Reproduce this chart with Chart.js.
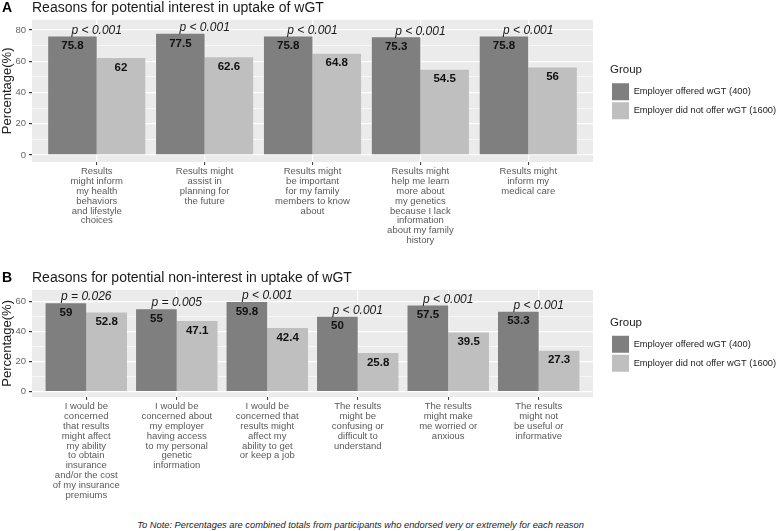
<!DOCTYPE html>
<html>
<head>
<meta charset="utf-8">
<script src="https://cdn.jsdelivr.net/npm/chart.js@4.4.1/dist/chart.umd.min.js"></script>
<style>
  body { margin: 0; background: #fff; font-family: "Liberation Sans", Arial, sans-serif; }
  #page { position: relative; width: 779px; height: 531px; }
  .panel { position: absolute; left: 0; width: 779px; }
  #panelA { top: 0; height: 255px; }
  #panelB { top: 262px; height: 245px; }
  #note { position: absolute; top: 519px; left: 0; width: 721px; text-align: center; line-height: 12px;
          font-style: italic; font-size: 9.3px; color: #222; }
</style>
</head>
<body>
<div id="page">
  <div class="panel" id="panelA"><canvas id="chartA"></canvas></div>
  <div class="panel" id="panelB"><canvas id="chartB"></canvas></div>
  <div id="note">To Note: Percentages are combined totals from participants who endorsed very or extremely for each reason</div>
</div>
<script>
"use strict";

const groupLabels = ["Employer offered wGT (400)", "Employer did not offer wGT (1600)"];
const groupColors = ["#7f7f7f", "#bfbfbf"];

// panel A - reasons for interest
const reasonsA = [
  ["Results", "might inform", "my health", "behaviors", "and lifestyle", "choices"],
  ["Results might", "assist in", "planning for", "the future"],
  ["Results might", "be important", "for my family", "members to know", "about"],
  ["Results might", "help me learn", "more about", "my genetics", "because I lack", "information", "about my family", "history"],
  ["Results might", "inform my", "medical care"]
];
const offeredA = [75.8, 77.5, 75.8, 75.3, 75.8];
const notOfferedA = [62, 62.6, 64.8, 54.5, 56];
const pValuesA = ["p < 0.001", "p < 0.001", "p < 0.001", "p < 0.001", "p < 0.001"];
const yTicksA = [0, 20, 40, 60, 80];

// panel B - reasons for non-interest
const reasonsB = [
  ["I would be", "concerned", "that results", "might affect", "my ability", "to obtain", "insurance", "and/or the cost", "of my insurance", "premiums"],
  ["I would be", "concerned about", "my employer", "having access", "to my personal", "genetic", "information"],
  ["I would be", "concerned that", "results might", "affect my", "ability to get", "or keep a job"],
  ["The results", "might be", "confusing or", "difficult to", "understand"],
  ["The results", "might make", "me worried or", "anxious"],
  ["The results", "might not", "be useful or", "informative"]
];
const offeredB = [59, 55, 59.8, 50, 57.5, 53.3];
const notOfferedB = [52.8, 47.1, 42.4, 25.8, 39.5, 27.3];
const pValuesB = ["p = 0.026", "p = 0.005", "p < 0.001", "p < 0.001", "p < 0.001", "p < 0.001"];
const yTicksB = [0, 20, 40, 60];

const FONT = "'Liberation Sans', Arial, sans-serif";
Chart.defaults.font.family = FONT;

// grey ggplot panel behind everything
const panelBackground = {
  id: "panelBackground",
  beforeDraw(chart) {
    const a = chart.chartArea;
    const ctx = chart.ctx;
    ctx.save();
    ctx.fillStyle = "#ebebeb";
    ctx.fillRect(a.left, a.top, a.right - a.left, a.bottom - a.top);
    ctx.restore();
  }
};

// legend gets a fixed width and sits a bit right of the panel
const legendPlacement = {
  id: "legendPlacement",
  beforeLayout(chart) {
    const lg = chart.legend;
    if (lg && !lg.fixedFit) {
      const fit = lg.fit;
      lg.fit = function () { fit.call(this); this.width = 186; };
      lg.fixedFit = true;
    }
  },
  afterLayout(chart) {
    const lg = chart.legend;
    const w = lg.width;
    lg.left = chart.chartArea.right + 17;
    lg.right = lg.left + w;
    lg.top += 2;
    lg.bottom += 2;
  }
};

function makePanel(canvasId, letter, title, reasons, offered, notOffered, pValues, yTicks, yRange, xAxisHeight, titlePad) {
  // value labels, p values and the panel letter
  const barText = {
    id: "barText",
    afterDatasetsDraw(chart) {
      const ctx = chart.ctx;
      ctx.save();
      ctx.textAlign = "center";
      ctx.textBaseline = "middle";
      ctx.fillStyle = "#111";
      ctx.font = "bold 11.5px " + FONT;
      chart.data.datasets.forEach((ds, d) => {
        chart.getDatasetMeta(d).data.forEach((bar, i) => {
          ctx.fillText(String(ds.data[i].y), bar.x, bar.y + 9.5);
        });
      });
      const bars0 = chart.getDatasetMeta(0).data;
      const bars1 = chart.getDatasetMeta(1).data;
      ctx.font = "italic 12px " + FONT;
      ctx.fillStyle = "#1a1a1a";
      for (let i = 0; i < pValues.length; i++) {
        const top = Math.min(bars0[i].y, bars1[i].y);
        ctx.fillText(pValues[i], chart.scales.x.getPixelForValue(i), top - 6);
      }
      ctx.font = "bold 14px " + FONT;
      ctx.textAlign = "left";
      ctx.fillStyle = "#000";
      ctx.fillText(letter, 2, chart.chartArea.top - 12);
      ctx.restore();
    }
  };

  return new Chart(document.getElementById(canvasId), {
    type: "bar",
    data: {
      datasets: [
        {
          label: groupLabels[0],
          data: offered.map((v, i) => ({ x: i, y: v })),
          backgroundColor: groupColors[0]
        },
        {
          label: groupLabels[1],
          data: notOffered.map((v, i) => ({ x: i, y: v })),
          backgroundColor: groupColors[1]
        }
      ]
    },
    options: {
      responsive: true,
      maintainAspectRatio: false,
      animation: false,
      layout: { padding: 0 },
      datasets: {
        bar: { categoryPercentage: 0.9, barPercentage: 1, borderWidth: 0 }
      },
      scales: {
        x: {
          type: "linear",
          min: -0.6,
          max: reasons.length - 0.4,
          offset: false,
          afterFit: (s) => { s.height = xAxisHeight; },
          afterBuildTicks: (s) => { s.ticks = reasons.map((r, i) => ({ value: i })); },
          ticks: {
            autoSkip: false,
            maxRotation: 0,
            minRotation: 0,
            padding: 1,
            color: "#5a5a5a",
            font: { size: 9.5, lineHeight: 1.05 },
            callback: (v) => reasons[v]
          },
          grid: { offset: false, color: "#fff", lineWidth: 1.2, tickColor: "#333", tickLength: 3, tickWidth: 1 },
          border: { display: false }
        },
        y: {
          min: yRange[0],
          max: yRange[1],
          afterFit: (s) => { s.width = 32; },
          afterBuildTicks: (s) => {
            const t = [];
            for (let v = 0; v <= yRange[1]; v += 10) t.push({ value: v });
            s.ticks = t;
          },
          ticks: {
            autoSkip: false,
            padding: 3,
            color: "#666",
            font: { size: 9.5 },
            callback: (v) => (yTicks.includes(v) ? v : "")
          },
          grid: {
            color: "#fff",
            lineWidth: (c) => (yTicks.includes(c.tick.value) ? 1.2 : 0.6),
            tickColor: (c) => (yTicks.includes(c.tick.value) ? "#333" : "rgba(0,0,0,0)"),
            tickLength: 3
          },
          border: { display: false },
          title: { display: true, text: "Percentage(%)", font: { size: 13 }, color: "#222", padding: 0 }
        }
      },
      plugins: {
        title: {
          display: true,
          text: title,
          align: "start",
          fullSize: false,
          color: "#1a1a1a",
          font: { size: 14, weight: "normal" },
          padding: titlePad
        },
        legend: {
          position: "right",
          fullSize: false,
          align: "center",
          title: {
            display: true,
            text: "Group",
            position: "start",
            color: "#222",
            font: { size: 11.5 },
            padding: { top: 0, bottom: 3 }
          },
          labels: {
            boxWidth: 17,
            boxHeight: 17,
            padding: 2,
            textAlign: "left",
            color: "#222",
            font: { size: 9.3 }
          }
        },
        tooltip: { enabled: false }
      }
    },
    plugins: [panelBackground, legendPlacement, barText]
  });
}

makePanel("chartA", "A", "Reasons for potential interest in uptake of wGT",
  reasonsA, offeredA, notOfferedA, pValuesA, yTicksA, [-4.5, 86.5], 93, { top: 0, bottom: 3 });
makePanel("chartB", "B", "Reasons for potential non-interest in uptake of wGT",
  reasonsB, offeredB, notOfferedB, pValuesB, yTicksB, [-3.6, 67.9], 110, { top: 8, bottom: 3 });
</script>
</body>
</html>
